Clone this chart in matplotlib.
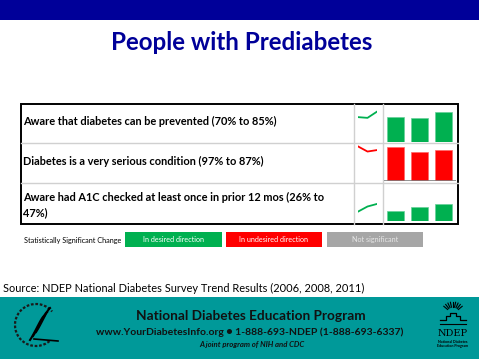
import numpy as np
import matplotlib.pyplot as plt
from matplotlib.patches import Rectangle, Arc

# survey years and values (percent) per indicator
years = ["2006", "2008", "2011"]
row_labels = [
    "Aware that diabetes can be prevented (70% to 85%)",
    "Diabetes is a very serious condition (97% to 87%)",
    "Aware had A1C checked at least once in prior 12 mos (26% to\n47%)",
]
row_values = [
    [70, 68, 85],
    [97, 83, 87],
    [26, 40, 47],
]
row_status = ["desired", "undesired", "desired"]
legend_labels = ["In desired direction", "In undesired direction", "Not significant"]

GREEN = "#00b050"
RED = "#ff0000"
GRAY = "#a6a6a6"
NAVY = "#000099"
TEAL = "#009999"
STATUS_COLOR = {"desired": GREEN, "undesired": RED, "none": GRAY}

W, H = 479, 359
plt.rcParams["font.family"] = ["Lato", "DejaVu Sans"]

fig = plt.figure(figsize=(W / 100, H / 100), dpi=100)
bg = fig.add_axes([0, 0, 1, 1])
bg.set_xlim(0, W)
bg.set_ylim(H, 0)
bg.axis("off")


def px_axes(x0, y0, x1, y1):
    # axes placed by pixel box (top-left origin)
    return fig.add_axes([x0 / W, 1 - y1 / H, (x1 - x0) / W, (y1 - y0) / H])


# header band and title
bg.add_patch(Rectangle((0, 0), W, 19.5, color=NAVY, lw=0))
bg.text(242, 42, "People with Prediabetes", color=NAVY, fontsize=17.4,
        fontweight="bold", ha="center", va="center")

# table grid
tx0, tx1 = 21, 458
row_edges = [104.3, 143.3, 183.3, 224]
col_edges = [354, 383]
for y in row_edges[1:-1]:
    bg.plot([tx0, tx1], [y, y], color="#d0d0d0", lw=1)
for x in col_edges:
    bg.plot([x, x], [row_edges[0], row_edges[-1]], color="#d0d0d0", lw=1)
bg.add_patch(Rectangle((tx0, row_edges[0]), tx1 - tx0, row_edges[-1] - row_edges[0],
                       fill=False, ec="black", lw=1.4))

label_y = [121.7, 161, 205.5]
for lbl, y in zip(row_labels, label_y):
    bg.text(23, y, lbl, fontsize=7.95, fontweight="bold", ha="left", va="center",
            linespacing=1.45)

# bars and sparklines per row, same vertical scale (~0.355 px per %)
baselines = [142, 181, 220.7]
span = 38
ymax = span / 0.355
for vals, status, base in zip(row_values, row_status, baselines):
    col = STATUS_COLOR[status]
    axb = px_axes(384, base - span, 455.5, base)
    axb.bar(range(len(years)), vals, width=0.71, color=col,
            edgecolor="#66d09a" if status == "desired" else "#ff6666", lw=0.5)
    axb.set_xlim(-0.5, 2.5)
    axb.set_ylim(0, ymax)
    axb.axis("off")
    if status == "undesired":
        axb.axhline(0, color="#7f7f7f", lw=1.2)

    axs = px_axes(358.3, base - span, 376.7, base)
    axs.plot(range(len(years)), vals, color=col, lw=1.3)
    axs.set_xlim(0, 2)
    axs.set_ylim(0, ymax)
    axs.axis("off")

# legend strip
bg.text(24, 240, "Statistically Significant Change", fontsize=5.2, ha="left", va="center")
leg_boxes = [(125, 222), (226, 322), (327, 423)]
leg_colors = [GREEN, RED, GRAY]
leg_text = ["white", "white", "#e6e6e6"]
for (x0, x1), c, t, lbl in zip(leg_boxes, leg_colors, leg_text, legend_labels):
    bg.add_patch(Rectangle((x0, 231.7), x1 - x0, 15.3, color=c, lw=0))
    bg.text((x0 + x1) / 2, 239.5, lbl, fontsize=5.2, color=t, ha="center", va="center")

bg.text(3, 288.5, "Source: NDEP National Diabetes Survey Trend Results (2006, 2008, 2011)",
        fontsize=7.9, ha="left", va="center")

# footer
bg.add_patch(Rectangle((0, 297), W, H - 297, color=TEAL, lw=0))
bg.text(251, 316, "National Diabetes Education Program", fontsize=9.8,
        fontweight="bold", ha="center", va="center", color="#111111")
bg.text(250, 332.5, "www.YourDiabetesInfo.org \u25cf 1-888-693-NDEP (1-888-693-6337)",
        fontsize=7.5, fontweight="bold", ha="center", va="center", color="#111111")
bg.text(252, 344.5, "A joint program of NIH and CDC", fontsize=5.6, fontweight="bold",
        style="italic", ha="center", va="center", color="#111111")

# HHS seal (simplified)
bg.add_patch(Arc((36, 325), 42, 42, theta1=50, theta2=320, color="#1a1a1a", lw=1.6,
                 ls=(0, (1.2, 0.8))))
for k in range(3):
    t = np.linspace(0, 1, 30)
    xs = 50 - k * 3 - 22 * t
    ys = 308 + k * 4 + 30 * t ** 1.3 - 6 * t ** 3
    bg.plot(xs + 8 * t, ys, color="black", lw=1.5)
bg.plot([34, 58], [339, 341], color="black", lw=1.2)

# NDEP logo (simplified)
for a in np.linspace(40, 140, 9):
    r = np.radians(a)
    bg.plot([453 + 7 * np.cos(r), 453 + 12 * np.cos(r)],
            [314 - 7 * np.sin(r), 314 - 12 * np.sin(r)], color="black", lw=0.8)
bg.plot([440, 446, 446, 450, 450, 456, 456, 460, 460, 466],
        [320, 320, 316, 316, 313, 313, 316, 316, 320, 320], color="black", lw=0.9)
bg.plot([440, 466], [324, 324], color="black", lw=0.8)
bg.text(453, 334, "NDEP", family="DejaVu Serif", fontsize=7, ha="center", va="center")
bg.text(453, 344, "National Diabetes\nEducation Program", fontsize=2.6, fontweight="bold",
        ha="center", va="center", linespacing=1.1)

fig.savefig("out.png", dpi=100)
